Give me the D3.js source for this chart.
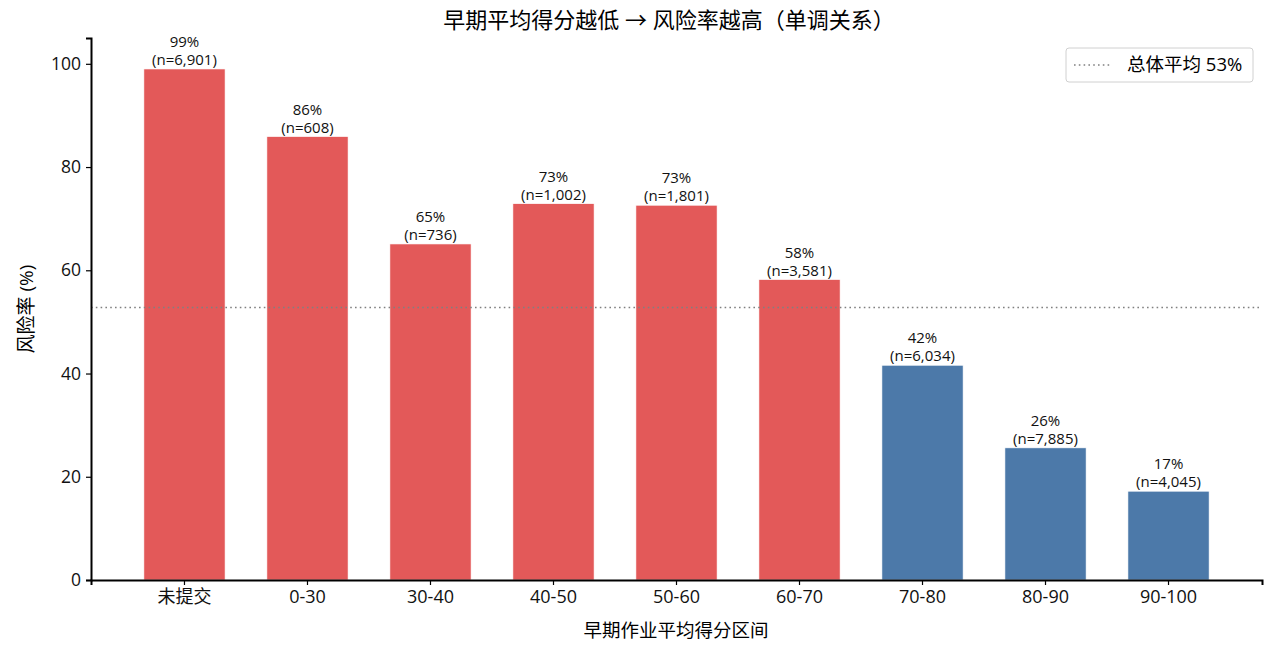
<!DOCTYPE html>
<html>
<head>
<meta charset="utf-8">
<script src="https://cdn.jsdelivr.net/npm/d3@7"></script>
<style>
  body { margin: 0; background: #fff; }
  svg { font-family: "Open Sans", "Noto Sans CJK SC", sans-serif; }
</style>
</head>
<body>
<div id="chart"></div>
<script>
// data
const categories = ["未提交", "0-30", "30-40", "40-50", "50-60", "60-70", "70-80", "80-90", "90-100"];
const riskRates = [99.0, 85.9, 65.1, 72.9, 72.6, 58.2, 41.6, 25.6, 17.2];
const counts = [6901, 608, 736, 1002, 1801, 3581, 6034, 7885, 4045];
const overallMean = 52.8;
const yTicks = [0, 20, 40, 60, 80, 100];

const width = 1280, height = 647;
const margin = { top: 38, right: 18, bottom: 67, left: 91 };

const svg = d3.select("#chart").append("svg")
  .attr("width", width)
  .attr("height", height);

const x = d3.scaleBand()
  .domain(categories)
  .range([margin.left, width - margin.right])
  .paddingInner(0.34)
  .paddingOuter(0.43);

const y = d3.scaleLinear()
  .domain([0, 105])
  .range([height - margin.bottom, margin.top]);

const colorFor = (v) => v > overallMean ? "#e35959" : "#4c79a9";

// bars
svg.append("g")
  .selectAll("rect")
  .data(riskRates)
  .join("rect")
  .attr("x", (d, i) => x(categories[i]))
  .attr("y", d => y(d))
  .attr("width", x.bandwidth())
  .attr("height", d => y(0) - y(d))
  .attr("fill", d => colorFor(d))
  .attr("stroke", "#fff")
  .attr("stroke-width", 0.6);

// value labels, two lines above each bar
const labels = svg.append("g")
  .attr("font-size", 15)
  .attr("text-anchor", "middle")
  .attr("fill", "#111");

labels.selectAll("text.pct")
  .data(riskRates)
  .join("text")
  .attr("class", "pct")
  .attr("x", (d, i) => x(categories[i]) + x.bandwidth() / 2)
  .attr("y", d => y(d) - 22)
  .text(d => d3.format(".0f")(d) + "%");

labels.selectAll("text.n")
  .data(counts)
  .join("text")
  .attr("class", "n")
  .attr("x", (d, i) => x(categories[i]) + x.bandwidth() / 2)
  .attr("y", (d, i) => y(riskRates[i]) - 4)
  .text(d => "(n=" + d3.format(",")(d) + ")");

// mean line
svg.append("line")
  .attr("x1", margin.left)
  .attr("x2", width - margin.right)
  .attr("y1", y(overallMean))
  .attr("y2", y(overallMean))
  .attr("stroke", "#808080")
  .attr("stroke-width", 1.6)
  .attr("stroke-dasharray", "1.6,3.2");

// axes
const xAxis = svg.append("g")
  .attr("transform", `translate(0,${y(0)})`)
  .call(d3.axisBottom(x).tickSize(5).tickPadding(5));
xAxis.selectAll("text").attr("font-size", 18).attr("fill", "#111");

const yAxis = svg.append("g")
  .attr("transform", `translate(${margin.left},0)`)
  .call(d3.axisLeft(y).tickValues(yTicks).tickSize(5).tickPadding(5));
yAxis.selectAll("text").attr("font-size", 17.5).attr("fill", "#111");

[xAxis, yAxis].forEach(g => {
  g.select(".domain").attr("stroke", "#000").attr("stroke-width", 2);
  g.selectAll(".tick line").attr("stroke", "#000").attr("stroke-width", 1.2);
  g.attr("font-family", null);
});

// axis titles
svg.append("text")
  .attr("x", 676)
  .attr("y", 637)
  .attr("text-anchor", "middle")
  .attr("font-size", 18.5)
  .text("早期作业平均得分区间");

svg.append("text")
  .attr("transform", `translate(33,${(margin.top + height - margin.bottom) / 2}) rotate(-90)`)
  .attr("text-anchor", "middle")
  .attr("font-size", 19)
  .text("风险率 (%)");

// title
svg.append("text")
  .attr("x", 669)
  .attr("y", 28)
  .attr("text-anchor", "middle")
  .attr("font-size", 22)
  .text("早期平均得分越低 → 风险率越高（单调关系）");

// legend
const legend = svg.append("g").attr("transform", "translate(1066,48)");
legend.append("rect")
  .attr("width", 187)
  .attr("height", 34)
  .attr("rx", 3)
  .attr("fill", "#fff")
  .attr("stroke", "#d0d0d0");
legend.append("line")
  .attr("x1", 8).attr("x2", 44)
  .attr("y1", 17).attr("y2", 17)
  .attr("stroke", "#808080")
  .attr("stroke-width", 1.6)
  .attr("stroke-dasharray", "1.6,3.2");
legend.append("text")
  .attr("x", 61)
  .attr("y", 23)
  .attr("font-size", 18.5)
  .text("总体平均 " + d3.format(".0f")(overallMean) + "%");
</script>
</body>
</html>
